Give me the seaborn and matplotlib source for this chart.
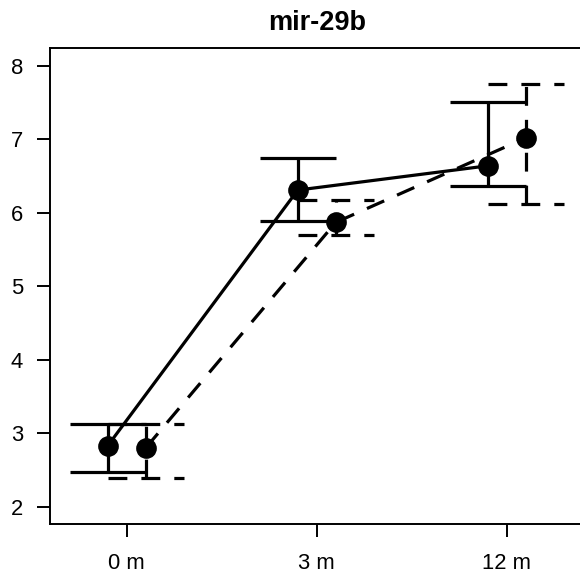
import numpy as np
import pandas as pd
import matplotlib
matplotlib.use("Agg")
import matplotlib.pyplot as plt
import seaborn as sns

# ---- data ----
timepoints = ["0 m", "3 m", "12 m"]
solid_mean = [2.83, 6.31, 6.64]
solid_upper = [3.13, 6.75, 7.51]
solid_lower = [2.47, 5.89, 6.37]
dashed_mean = [2.80, 5.87, 7.02]
dashed_upper = [3.13, 6.18, 7.76]
dashed_lower = [2.39, 5.70, 6.12]
y_ticks = [2, 3, 4, 5, 6, 7, 8]
title_text = "mir-29b"

sns.set_style("ticks")
plt.rcParams["font.family"] = ["Liberation Sans", "DejaVu Sans"]
plt.rcParams["text.color"] = "black"
plt.rcParams["axes.labelcolor"] = "black"

# ---- layout ----
W, H = 580, 581
fig = plt.figure(figsize=(W / 100, H / 100), dpi=100)
ax = fig.add_axes([50 / W, (H - 524.3) / H, 533.5 / W, 476.0 / H])

offset = 0.1
cap_half = 0.2
lw = 2.3
dash = (5.9, 4.4)

base = np.arange(1, len(timepoints) + 1)
groups = {
    "solid": (base - offset, solid_mean, solid_lower, solid_upper, "solid"),
    "dashed": (base + offset, dashed_mean, dashed_lower, dashed_upper, (0, dash)),
}

rows = []
for g, (xs, m, lo, hi, ls) in groups.items():
    for xi, mi in zip(xs, m):
        rows.append({"group": g, "x": xi, "mean": mi})
df = pd.DataFrame(rows)

sns.lineplot(data=df, x="x", y="mean", style="group",
             dashes={"solid": "", "dashed": dash}, color="black",
             linewidth=lw, legend=False, sort=False, estimator=None, ax=ax,
             zorder=2)

for g, (xs, m, lo, hi, ls) in groups.items():
    ax.vlines(xs, lo, hi, colors="black", linestyles=ls, linewidth=lw, zorder=2)
    ax.hlines(hi, xs - cap_half, xs + cap_half, colors="black",
              linestyles=ls, linewidth=lw, zorder=2)
    ax.hlines(lo, xs - cap_half, xs + cap_half, colors="black",
              linestyles=ls, linewidth=lw, zorder=2)

sns.scatterplot(data=df, x="x", y="mean", color="black", edgecolor="black",
                s=190, legend=False, ax=ax, zorder=3)

ax.set_xlim(0.596, 3.404)
ax.set_ylim(1.76, 8.24)
ax.set_xticks(base)
ax.set_xticklabels(timepoints)
ax.set_yticks(y_ticks)
ax.set_xlabel("")
ax.set_ylabel("")
for s in ax.spines.values():
    s.set_linewidth(1.4)
    s.set_color("black")
ax.spines["right"].set_visible(False)
ax.tick_params(axis="both", direction="out", length=9.5, width=1.4,
               colors="black", labelsize=15.8)
ax.tick_params(axis="x", pad=11)
ax.tick_params(axis="y", pad=10)
ax.set_title(title_text, fontsize=19.5, fontweight="bold", pad=13,
             color="black")

fig.savefig("out.png", dpi=100)
